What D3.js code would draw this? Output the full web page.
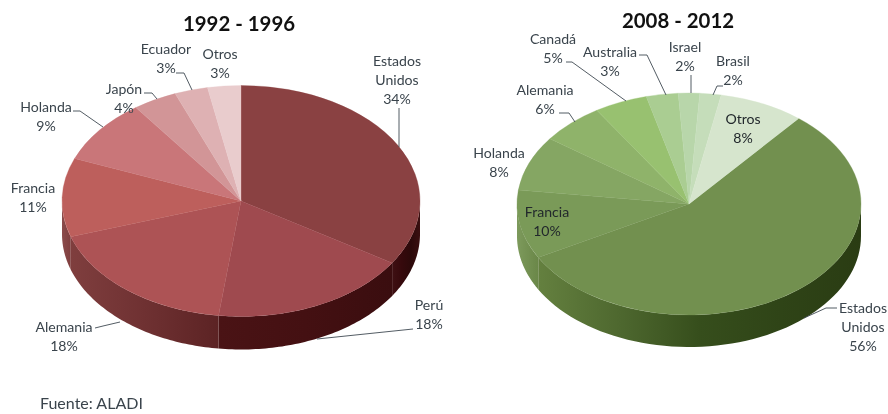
<!DOCTYPE html>
<html>
<head>
<meta charset="utf-8">
<script src="https://cdn.jsdelivr.net/npm/d3@7/dist/d3.min.js"></script>
<style>
html,body{margin:0;padding:0;background:#fff;}
svg{display:block;filter:blur(0.35px);}
text{font-family:Lato,"Open Sans",sans-serif;}
</style>
</head>
<body>
<svg id="chart" width="888" height="414"></svg>
<script>
// ---- data ----
const countriesA = ["Estados Unidos","Perú","Alemania","Francia","Holanda","Japón","Ecuador","Otros"];
const valuesA = [34,18,18,11,9,4,3,3];
const countriesB = ["Estados Unidos","Francia","Holanda","Alemania","Canadá","Australia","Israel","Brasil","Otros"];
const valuesB = [56,10,8,6,5,3,2,2,8];
const titleA = "1992 - 1996";
const titleB = "2008 - 2012";
const sourceNote = "Fuente: ALADI";

// ---- styles ----
const topColorsA = ["#8a4142","#9f4a4f","#ad5355","#bd5f5c","#c97679","#d29597","#deb1b3","#e9cccd"];
const topColorsB = ["#72904f","#7a9a58","#85a663","#8fb36a","#98c170","#aacd92","#b8d6aa","#c5ddba","#d6e5cd"];
// wall gradients, listed left to right on the screen, one list per visible slice
const wallColorsA = [["#3f1013","#36090c","#2c090a","#3a0f10"],["#4a1315","#441012","#3a0d0f"],["#7f3e3e","#6f3132","#5c2324"],["#8b4b4b","#7f3e3e"]];
const wallColorsB = [["#64803f","#4e682f","#364e1c","#2f4417","#2a3c13"],["#7d9a5c","#6a8748"]];

// ---- layout ----
const layoutA = {cx:241, cy:201, rx:179, ry:115.5, depth:33, startDeg:0, titleX:239, titleY:24};
const layoutB = {cx:689, cy:204, rx:172, ry:111, depth:32, startDeg:39.6, titleX:678, titleY:21};
const labelsA = [
  {lines:["Estados","Unidos","34%"], x:397, y:61},
  {lines:["Perú","18%"], x:429, y:305},
  {lines:["Alemania","18%"], x:64, y:327},
  {lines:["Francia","11%"], x:33, y:188},
  {lines:["Holanda","9%"], x:46, y:107},
  {lines:["Japón","4%"], x:124, y:89},
  {lines:["Ecuador","3%"], x:166, y:49},
  {lines:["Otros","3%"], x:220, y:54}
];
const labelsB = [
  {lines:["Estados","Unidos","56%"], x:863, y:308},
  {lines:["Francia","10%"], x:547, y:212, dark:true},
  {lines:["Holanda","8%"], x:499, y:153},
  {lines:["Alemania","6%"], x:545, y:90},
  {lines:["Canadá","5%"], x:553, y:39},
  {lines:["Australia","3%"], x:610, y:52},
  {lines:["Israel","2%"], x:685, y:47},
  {lines:["Brasil","2%"], x:733, y:61},
  {lines:["Otros","8%"], x:743, y:119, dark:true}
];
const leadersA = [
  [[399,108],[399,147]],
  [[413,329],[317,339]],
  [[95,328],[103,326],[120,322]],
  [[73,111],[80,111],[103,127]],
  [[144,93],[152,93],[157,99]],
  [[176,73],[184,73],[192,90]]
];
const leadersB = [
  [[566,62],[572,62],[626,101]],
  [[639,55],[647,55],[666,95]],
  [[691,75],[691,93]],
  [[723,86],[717,86],[713,95]],
  [[559,113],[569,113],[575,122]],
  [[837,308],[826,308],[804,318]]
];

const svg = d3.select("#chart");
const defs = svg.append("defs");
const toRad = d => d * Math.PI / 180;

function drawPie(id, names, values, topColors, wallColors, L, labels, leaders, title) {
  const g = svg.append("g").attr("class", "pie-" + id);
  const pie = d3.pie().sort(null).value(d => d)
    .startAngle(toRad(L.startDeg)).endAngle(toRad(L.startDeg + 360));
  const arcs = pie(values);
  const px = a => L.cx + L.rx * Math.sin(a);
  const py = a => L.cy - L.ry * Math.cos(a);

  // side walls: the front half of the ellipse, per slice
  const front0 = Math.PI / 2, front1 = 3 * Math.PI / 2;
  const wall = d3.area().x(a => px(a)).y0(a => py(a)).y1(a => py(a) + L.depth);
  let w = 0;
  arcs.forEach((d, i) => {
    const a0 = Math.max(d.startAngle, front0), a1 = Math.min(d.endAngle, front1);
    if (a1 <= a0) return;
    const samples = d3.range(0, 61).map(k => a0 + (a1 - a0) * k / 60);
    const cols = wallColors[Math.min(w, wallColors.length - 1)];
    w++;
    const gid = "wall-" + id + "-" + i;
    const grad = defs.append("linearGradient").attr("id", gid)
      .attr("gradientUnits", "userSpaceOnUse")
      .attr("x1", px(a1)).attr("x2", px(a0)).attr("y1", 0).attr("y2", 0);
    cols.forEach((c, k) => grad.append("stop")
      .attr("offset", k / (cols.length - 1)).attr("stop-color", c));
    g.append("path").attr("d", wall(samples)).attr("fill", "url(#" + gid + ")");
  });

  // top face: a circular d3 arc squashed to the ellipse
  const arc = d3.arc().innerRadius(0).outerRadius(L.rx);
  g.append("g")
    .attr("transform", `translate(${L.cx},${L.cy}) scale(1,${L.ry / L.rx})`)
    .selectAll("path").data(arcs).join("path")
    .attr("d", arc)
    .attr("fill", (d, i) => topColors[i])
    .attr("stroke", (d, i) => topColors[i])
    .attr("stroke-width", 0.4)
    .append("title").text((d, i) => names[i] + " " + values[i] + "%");

  // leader lines
  const line = d3.line();
  g.selectAll("path.leader").data(leaders).join("path")
    .attr("class", "leader")
    .attr("d", line)
    .attr("fill", "none").attr("stroke", "#3f4a52").attr("stroke-width", 0.9);

  // labels
  labels.forEach(l => {
    const t = g.append("text").attr("text-anchor", "middle")
      .attr("font-size", 14.1).attr("fill", l.dark ? "#22282c" : "#3a444c");
    l.lines.forEach((s, k) => {
      t.append("tspan").attr("x", l.x).attr("y", l.y + k * 19).attr("dy", "0.36em").text(s);
    });
  });

  g.append("text").attr("x", L.titleX).attr("y", L.titleY).attr("dy", "0.36em")
    .attr("text-anchor", "middle").attr("font-size", 20.4).attr("font-weight", 700)
    .attr("fill", "#111").text(title);
}

drawPie("a", countriesA, valuesA, topColorsA, wallColorsA, layoutA, labelsA, leadersA, titleA);
drawPie("b", countriesB, valuesB, topColorsB, wallColorsB, layoutB, labelsB, leadersB, titleB);

svg.append("text").attr("x", 40).attr("y", 403).attr("dy", "0.36em")
  .attr("font-size", 16).attr("fill", "#3a444c").text(sourceNote);
</script>
</body>
</html>
